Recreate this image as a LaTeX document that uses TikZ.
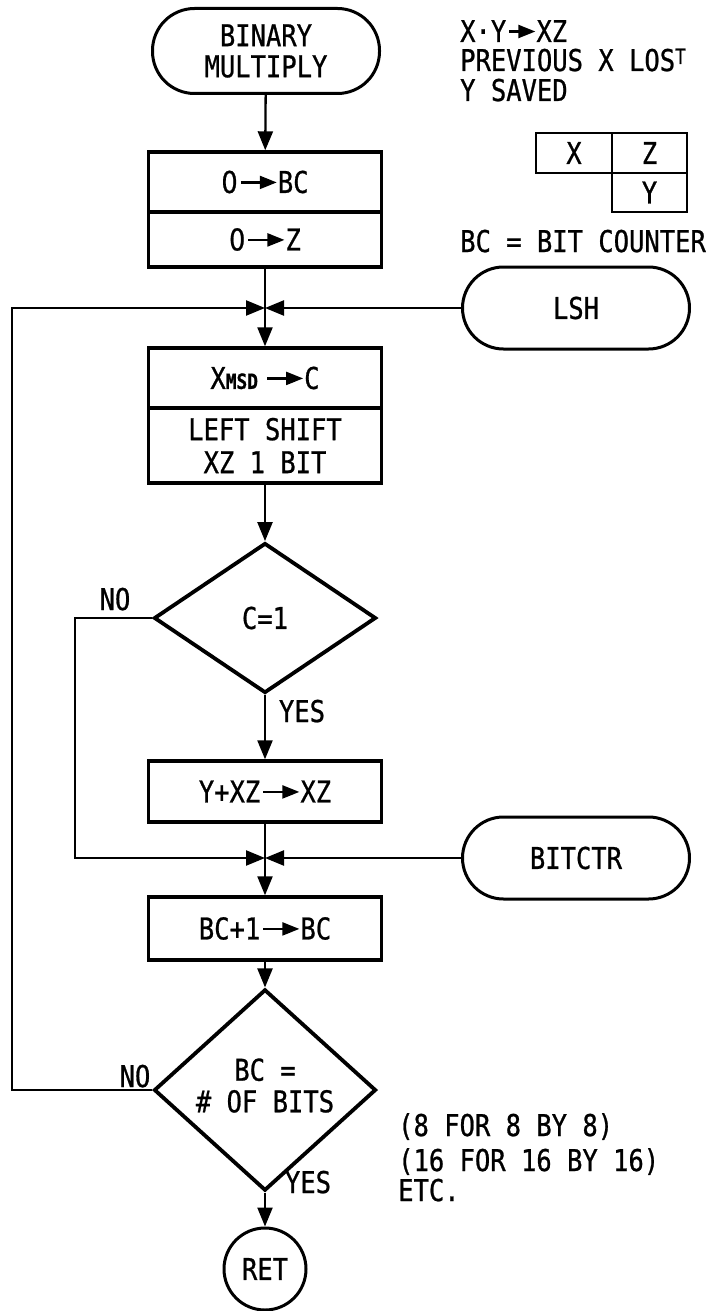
\documentclass[tikz,border=0pt]{standalone}
\usepackage{fontspec}
\setmainfont[FakeStretch=0.85,FakeBold=0.8]{DejaVu Sans Mono}
\newfontfamily\zfont[FakeStretch=0.85,FakeBold=0.8]{DejaVu Sans}
\usetikzlibrary{arrows.meta,shapes.geometric}
\newcommand{\myarr}[1][36]{\kern2pt\tikz[x=1pt,y=1pt,baseline=0pt]\draw[line width=2.2pt,-{Triangle[length=17pt,width=13pt]}](0,10.5)--(#1,10.5);}
\newcommand{\zr}{{\zfont 0}}
\begin{document}
\begin{tikzpicture}[x=1pt,y=-1pt,
  every node/.style={font=\fontsize{30}{31}\selectfont},
  term/.style={draw,line width=3pt,rounded corners=41pt,minimum width=227pt,minimum height=82pt,align=center,inner sep=0pt},
  proc/.style={draw,line width=3.4pt,minimum width=233pt,align=center,inner sep=0pt},
  dec/.style={draw,diamond,line width=3.8pt,minimum width=222pt,minimum height=150pt,inner sep=0pt,align=center},
  conn/.style={line width=2.3pt},
  arr/.style={conn,-{Triangle[length=19pt,width=15pt]}},
  lbl/.style={inner sep=0pt,anchor=base},
  note/.style={inner sep=0pt,anchor=base west},
  cell/.style={draw,line width=2.3pt,minimum width=75pt,minimum height=40pt,inner sep=0pt}
]
\useasboundingbox (0,0) rectangle (715,1311);

% main flow
\node[term,minimum height=85pt,rounded corners=42pt] (start) at (266,51) {BINARY\\MULTIPLY};
\node[proc,minimum height=60pt] (b1a) at (265,182) {\zr\myarr BC};
\node[proc,minimum height=55pt] (b1b) at (265,239.5) {\zr\myarr Z};
\coordinate (j1) at (265,308);
\node[term] (lsh) at (576,308) {LSH};
\node[proc,minimum height=60pt] (b2a) at (265,378) {X{\fontsize{21}{21}\selectfont\bfseries MSD}\kern6pt\myarr C};
\node[proc,minimum height=75pt] (b2b) at (265,445.5) {LEFT SHIFT\\[2pt]XZ 1 BIT};
\node[dec] (d1) at (265,618) {C=1};
\node[proc,minimum height=61pt] (b3) at (265,791.5) {Y+XZ\myarr XZ};
\coordinate (j2) at (265,858);
\node[term] (bitctr) at (576,858) {BITCTR};
\node[proc,minimum height=63pt] (b4) at (265,928.5) {BC+1\myarr BC};
\node[dec,minimum height=146pt] (d2) at (265,1090) {\raisebox{9pt}{\begin{tabular}{@{}c@{}}BC =\\\# OF BITS\end{tabular}}};
\node[circle,draw,line width=3pt,minimum size=82pt,inner sep=0pt] (ret) at (265,1269) {RET};

\coordinate (nol) at (75,858);
\coordinate (lp) at (12,308);

% connectors
\draw[arr] (start) -- (b1a);
\draw[conn] (b1b) -- (j1);
\draw[arr] (j1) -- (b2a);
\draw[arr] (lsh) -- (j1);
\draw[arr] (d2.west) -| (lp) -- (j1);
\draw[arr] (b2b) -- (d1);
\draw[arr] (d1) -- (b3);
\draw[arr] (d1.west) -| (nol) -- (j2);
\draw[conn] (b3) -- (j2);
\draw[arr] (j2) -- (b4);
\draw[arr] (bitctr) -- (j2);
\draw[arr] (b4) -- (d2);
\draw[arr] (d2) -- (ret);

% branch labels
\node[lbl] at (115,610) {NO};
\node[lbl] at (135,1087) {NO};
\node[lbl] at (302,722) {YES};
\node[lbl] at (308,1193) {YES};

% notes
\node[note] at (460,42) {X·Y\myarr[26]XZ};
\node[note] at (460,71) {PREVIOUS X LOS\raisebox{7pt}{\fontsize{21}{21}\selectfont T}};
\node[note] at (460,101) {Y SAVED};
\node[cell,minimum width=76pt] (cx) at (574,153) {X};
\node[cell] (cz) at (649.5,153) {Z};
\node[cell,minimum height=39pt] (cy) at (649.5,192.5) {Y};
\node[note] at (460,252) {BC = BIT COUNTER};
\node[note] at (398,1136) {(8 FOR 8 BY 8)};
\node[note] at (398,1171) {(16 FOR 16 BY 16)};
\node[note] at (398,1201) {ETC.};
\end{tikzpicture}
\end{document}
